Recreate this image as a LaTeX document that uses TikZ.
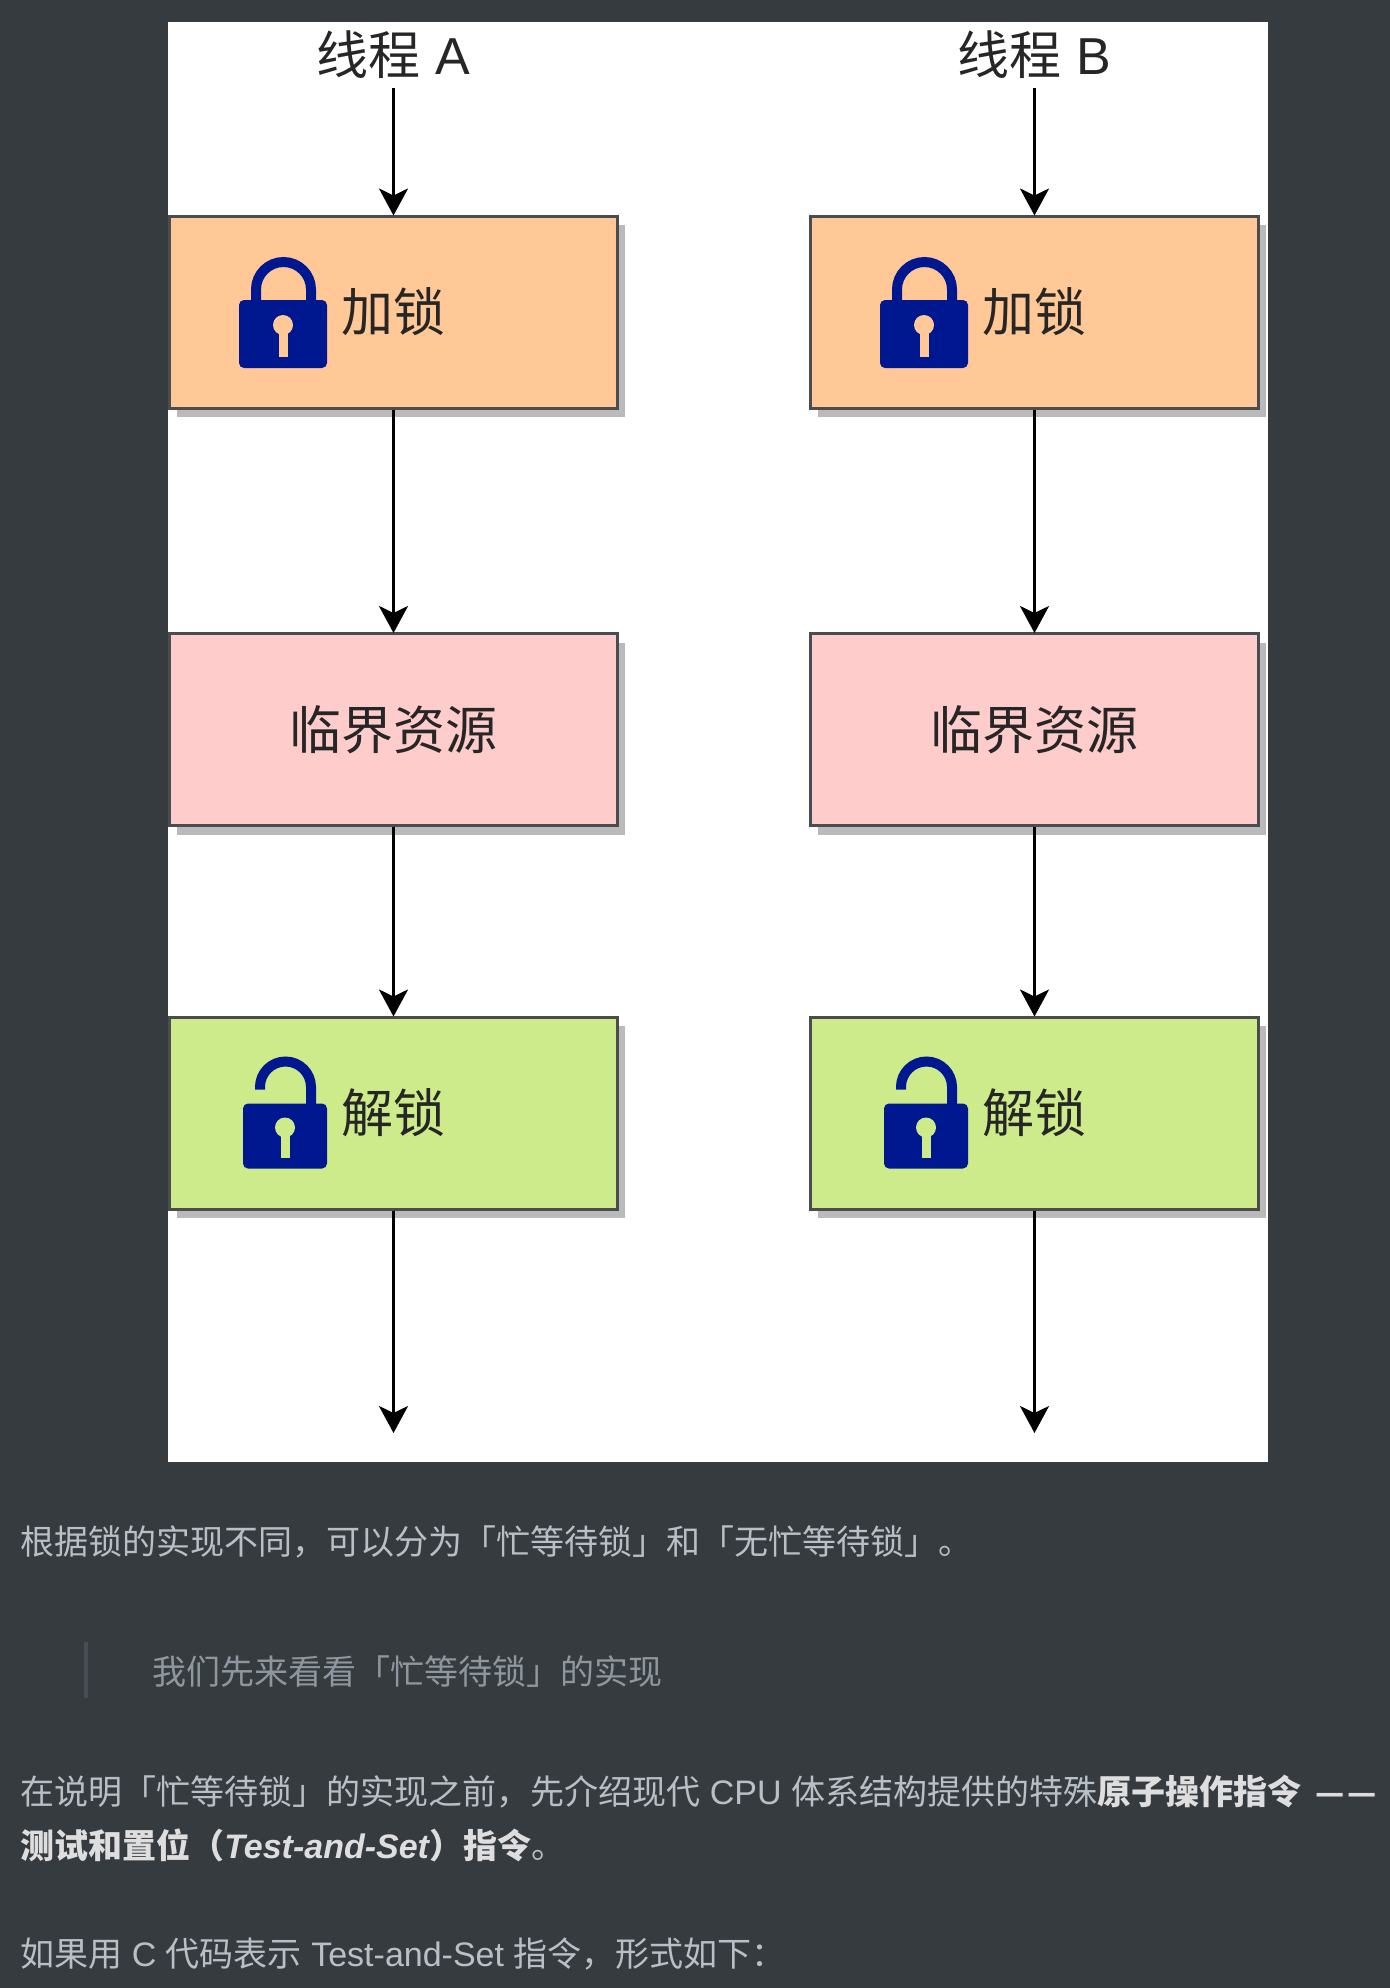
\documentclass[tikz,border=0pt]{standalone}
\usepackage{fontspec}
\setmainfont{Liberation Sans}
\newfontfamily\cjk{Noto Sans CJK SC}
\usetikzlibrary{arrows.meta,shadows}
\definecolor{pagebg}{HTML}{363B40}
\definecolor{bodytext}{HTML}{B8BFC6}
\definecolor{boldtext}{HTML}{DEDEDE}
\definecolor{quotetext}{HTML}{8F979E}
\definecolor{quotebar}{HTML}{474D54}
\definecolor{lockfill}{HTML}{FFC896}
\definecolor{resfill}{HTML}{FFCCCC}
\definecolor{unlockfill}{HTML}{CDEB8B}
\definecolor{boxline}{HTML}{4A4D50}
\definecolor{lockblue}{HTML}{00188F}
\tikzset{
  >={Stealth[length=13.5pt,width=14.5pt,inset=3.5pt]},
  flow/.style={->,line width=1.5pt,black,shorten >=-.5pt},
  box/.style={draw=boxline,line width=1.5pt,minimum width=224pt,minimum height=96pt,inner sep=0pt,
    font=\fontsize{26pt}{30pt}\cjk,text=black!85,
    drop shadow={shadow xshift=3.5pt,shadow yshift=-4.5pt,fill=black!27,opacity=1}},
  thread/.style={minimum height=33pt,inner sep=0pt,font=\fontsize{26pt}{30pt}\selectfont,text=black!85},
  para/.style={anchor=west,inner sep=0pt,text=bodytext,font=\fontsize{17pt}{20pt}\selectfont},
  pics/lockclosed/.style={code={
    \draw[lockblue,line width=5pt] (-137.5,-6) -- (-137.5,-22.5) arc(180:360:27.5) -- (-82.5,-6);
    \fill[lockblue,rounded corners=2.5pt] (-154.5,-12) rectangle (-66.5,56);
    \fill[#1] (-110.5,13) circle (10);
    \fill[#1] (-115,13) rectangle (-106,45);
  }},
  pics/lockopen/.style={code={
    \draw[lockblue,line width=5pt] (-133.5,-23.5) -- (-133.5,-26) arc(180:360:25.5) -- (-82.5,-6);
    \fill[lockblue,rounded corners=2.5pt] (-150.5,-9.5) rectangle (-66.5,55.5);
    \fill[#1] (-108.5,14.5) circle (10);
    \fill[#1] (-113,14.5) rectangle (-104,44.5);
  }}
}

\begin{document}
\begin{tikzpicture}[x=.5pt,y=-.5pt]
\useasboundingbox (0,0) rectangle (1390,1988);
\fill[pagebg] (0,0) rectangle (1390,1988);
\fill[white] (168,22) rectangle (1268,1462);

% thread A
\node[thread] (threadA) at (393.5,55) {{\cjk 线程} A};
\node[box,fill=lockfill] (lockA) at (393.5,312) {加锁};
\node[box,fill=resfill] (resA) at (393.5,729.5) {临界资源};
\node[box,fill=unlockfill] (unlockA) at (393.5,1113) {解锁};
\coordinate (endA) at (393.5,1432);
\pic at (lockA.center) {lockclosed=lockfill};
\pic at (unlockA.center) {lockopen=unlockfill};

\draw[flow] (threadA) -- (lockA);
\draw[flow] (lockA) -- (resA);
\draw[flow] (resA) -- (unlockA);
\draw[flow] (unlockA) -- (endA);

% thread B
\node[thread] (threadB) at (1034.5,55) {{\cjk 线程} B};
\node[box,fill=lockfill] (lockB) at (1034.5,312) {加锁};
\node[box,fill=resfill] (resB) at (1034.5,729.5) {临界资源};
\node[box,fill=unlockfill] (unlockB) at (1034.5,1113) {解锁};
\coordinate (endB) at (1034.5,1432);
\pic at (lockB.center) {lockclosed=lockfill};
\pic at (unlockB.center) {lockopen=unlockfill};

\draw[flow] (threadB) -- (lockB);
\draw[flow] (lockB) -- (resB);
\draw[flow] (resB) -- (unlockB);
\draw[flow] (unlockB) -- (endB);

% text under the figure
\node[para] (kinds) at (20,1542) {\cjk 根据锁的实现不同^^^^ff0c可以分为「忙等待锁」和「无忙等待锁」。};
\fill[quotebar] (83.5,1642) rectangle (88,1698);
\node[para,text=quotetext] (quote) at (152,1672) {\cjk 我们先来看看「忙等待锁」的实现};
\node[para] (intro) at (20,1792) {{\cjk 在说明「忙等待锁」的实现之前^^^^ff0c先介绍现代} CPU {\cjk 体系结构提供的特殊}{\color{boldtext}\bfseries{\cjk 原子操作指令} \kern2.5pt{\fontsize{16pt}{20pt}\cjk —\kern1.5pt—}}};
\node[para] (tas) at (20,1845) {{\color{boldtext}\bfseries{\cjk 测试和置位^^^^ff08}\itshape Test-and-Set\upshape{\cjk ^^^^ff09指令}}{\cjk 。}};
\node[para] (code) at (20,1953.5) {{\cjk 如果用} C {\cjk 代码表示} Test-and-Set {\cjk 指令^^^^ff0c形式如下^^^^ff1a}};
\end{tikzpicture}
\end{document}
